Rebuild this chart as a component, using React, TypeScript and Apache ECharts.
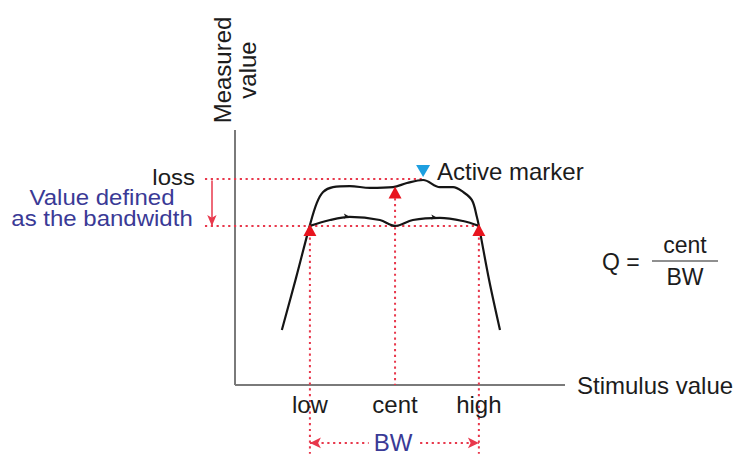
import React, { useEffect, useRef } from "react";
import * as echarts from "echarts";

// Response curves (abstract units: x 0..100 stimulus, y 0..100 measured)
const upperX = [14.2, 18.5, 22.7, 24.8, 26.7, 29.7, 34.8, 40.9, 47.9, 52.1, 57.0, 62.1, 66.1, 69.1, 71.8, 73.3, 73.9, 77.0, 80.3];
const upperY = [21.6, 42.0, 62.7, 71.4, 75.7, 77.6, 78.0, 77.3, 77.6, 79.2, 80.4, 77.6, 77.6, 75.7, 72.5, 65.9, 62.4, 41.2, 21.6];
const lowerX = [22.7, 28.8, 34.8, 43.9, 48.5, 53.9, 62.1, 69.1, 73.9];
const lowerY = [62.4, 64.7, 65.9, 64.7, 62.4, 64.7, 65.5, 64.3, 62.4];
const tickMarkX = [34.5, 61.0];
const tickMarkY = [66.2, 65.8];

// Axes (drawn from data)
const axisStart = 0;
const axisEnd = 100;

// Markers
const markerNames = ["low", "cent", "high"];
const markerX = [22.7, 48.5, 73.9];
const markerY = [60.8, 75.5, 60.8];
const activeX = 57.0;
const activeY = 83.9;

// Levels
const lossLevel = 80.8;
const bwLevel = 62.4;
const leftGuideX = -9.1;
const arrowX = -7.0;
const bottomY = -27;
const bwArrowY = -22.7;
const labelY = -7.8;

// visible window in data units
const viewXMin = -71.21;
const viewXMax = 151.21;
const viewYMin = -27.06;
const viewYMax = 150.98;

const FONT = "'Liberation Sans', Arial, Helvetica, sans-serif";
const RED = "#e8384c";
const MARK_RED = "#e8141e";
const BLUE_TEXT = "#3a3a96";
const TEXT = "#1c1c1c";
const AXIS = "#7a7a7a";

export default function App() {
  const ref = useRef<HTMLDivElement>(null);
  useEffect(() => {
    if (!ref.current) return;
    const chart = echarts.init(ref.current, null, { renderer: "svg" });
    const dotted = { color: RED, width: 2, type: [2.2, 3.6] as any };
    const guide = (pts: number[][]) => ({
      type: "line",
      data: pts,
      symbol: "none",
      silent: true,
      z: 1,
      lineStyle: dotted,
    });
    const hiddenAxis = {
      type: "value",
      show: false,
      axisLine: { show: false },
      axisTick: { show: false },
      axisLabel: { show: false },
      splitLine: { show: false },
    };
    const option: any = {
      animation: false,
      backgroundColor: "#ffffff",
      grid: { left: 0, top: 0, right: 0, bottom: 0, containLabel: false },
      xAxis: { ...hiddenAxis, min: viewXMin, max: viewXMax },
      yAxis: { ...hiddenAxis, min: viewYMin, max: viewYMax },
      series: [
        {
          type: "line",
          data: [[axisStart, axisStart], [axisEnd, axisStart]],
          symbol: "none",
          silent: true,
          z: 1,
          lineStyle: { color: AXIS, width: 2 },
        },
        {
          type: "line",
          data: [[axisStart, axisStart], [axisStart, axisEnd]],
          symbol: "none",
          silent: true,
          z: 1,
          lineStyle: { color: AXIS, width: 2 },
        },
        {
          ...guide([[leftGuideX, lossLevel], [activeX, lossLevel]]),
          markLine: {
            silent: true,
            symbol: ["none", "arrow"],
            symbolSize: [7, 11],
            lineStyle: { color: RED, width: 1.5, type: "solid" },
            label: { show: false },
            data: [[{ coord: [arrowX, lossLevel - 0.6] }, { coord: [arrowX, bwLevel] }]],
          },
        },
        {
          ...guide([[leftGuideX, bwLevel], [markerX[2], bwLevel]]),
          markLine: {
            silent: true,
            symbol: ["arrow", "arrow"],
            symbolSize: [8, 11],
            lineStyle: dotted,
            label: { show: false },
            data: [[{ coord: [markerX[0], bwArrowY] }, { coord: [markerX[2], bwArrowY] }]],
          },
        },
        guide([[markerX[0], bwLevel], [markerX[0], bottomY]]),
        guide([[markerX[1], markerY[1]], [markerX[1], 0]]),
        guide([[markerX[2], bwLevel], [markerX[2], bottomY]]),
        {
          type: "line",
          data: upperX.map((x, i) => [x, upperY[i]]),
          smooth: 0.35,
          symbol: "none",
          z: 3,
          lineStyle: { color: "#151515", width: 2.2 },
        },
        {
          type: "line",
          data: lowerX.map((x, i) => [x, lowerY[i]]),
          smooth: 0.35,
          symbol: "none",
          z: 3,
          lineStyle: { color: "#151515", width: 2.2 },
        },
        {
          type: "scatter",
          data: tickMarkX.map((x, i) => [x, tickMarkY[i]]),
          symbol: "arrow",
          symbolSize: [4, 5],
          symbolRotate: -90,
          itemStyle: { color: "#151515", opacity: 1 },
          z: 4,
        },
        {
          type: "scatter",
          data: markerX.map((x, i) => [x, markerY[i]]),
          symbol: "triangle",
          symbolSize: [13, 12],
          itemStyle: { color: MARK_RED, opacity: 1 },
          z: 5,
        },
        {
          type: "scatter",
          data: [[activeX, activeY]],
          symbol: "triangle",
          symbolRotate: 180,
          symbolSize: [14, 12],
          itemStyle: { color: "#1e9fe0", opacity: 1 },
          z: 5,
        },
        {
          type: "scatter",
          data: markerX.map((x, i) => ({ value: [x, labelY], name: markerNames[i] })),
          symbolSize: 0,
          itemStyle: { opacity: 1 },
          label: {
            show: true,
            position: "inside",
            formatter: (p: any) => p.name,
            color: TEXT,
            fontFamily: FONT,
            fontSize: 24,
          },
          z: 5,
        },
      ],
      graphic: [
        {
          type: "text",
          x: 235,
          y: 70,
          rotation: Math.PI / 2,
          z: 100,
          style: {
            text: "Measured\nvalue",
            fill: TEXT,
            font: `24px ${FONT}`,
            lineHeight: 25,
            align: "center",
            verticalAlign: "middle",
          },
        },
        {
          type: "text",
          x: 195,
          y: 177.5,
          scaleY: 0.9,
          z: 100,
          style: { text: "loss", fill: TEXT, font: `24px ${FONT}`, align: "right", verticalAlign: "middle" },
        },
        {
          type: "text",
          x: 102,
          y: 197,
          scaleY: 0.9,
          z: 100,
          style: { text: "Value defined", fill: BLUE_TEXT, font: `24px ${FONT}`, align: "center", verticalAlign: "middle" },
        },
        {
          type: "text",
          x: 102,
          y: 218,
          scaleY: 0.9,
          z: 100,
          style: { text: "as the bandwidth", fill: BLUE_TEXT, font: `24px ${FONT}`, align: "center", verticalAlign: "middle" },
        },
        {
          type: "text",
          x: 437,
          y: 171,
          z: 100,
          style: { text: "Active marker", fill: TEXT, font: `24px ${FONT}`, align: "left", verticalAlign: "middle" },
        },
        {
          type: "text",
          x: 577,
          y: 385,
          z: 100,
          style: { text: "Stimulus value", fill: TEXT, font: `24px ${FONT}`, align: "left", verticalAlign: "middle" },
        },
        {
          type: "text",
          x: 393,
          y: 442,
          z: 100,
          style: {
            text: "BW",
            fill: BLUE_TEXT,
            font: `24px ${FONT}`,
            align: "center",
            verticalAlign: "middle",
            backgroundColor: "#ffffff",
            padding: [0, 5],
          },
        },
        {
          type: "text",
          x: 602,
          y: 262,
          z: 100,
          style: { text: "Q =", fill: TEXT, font: `23px ${FONT}`, align: "left", verticalAlign: "middle" },
        },
        {
          type: "text",
          x: 685,
          y: 245,
          z: 100,
          style: { text: "cent", fill: TEXT, font: `23px ${FONT}`, align: "center", verticalAlign: "middle" },
        },
        {
          type: "line",
          z: 100,
          shape: { x1: 652, y1: 261, x2: 718, y2: 261 },
          style: { stroke: "#6a6a6a", lineWidth: 1.5 },
        },
        {
          type: "text",
          x: 685,
          y: 277,
          z: 100,
          style: { text: "BW", fill: TEXT, font: `23px ${FONT}`, align: "center", verticalAlign: "middle" },
        },
      ],
    };
    chart.setOption(option);
    return () => chart.dispose();
  }, []);
  return (
    <div
      ref={ref}
      style={{ position: "absolute", left: 0, top: 0, width: 734, height: 454 }}
    />
  );
}
